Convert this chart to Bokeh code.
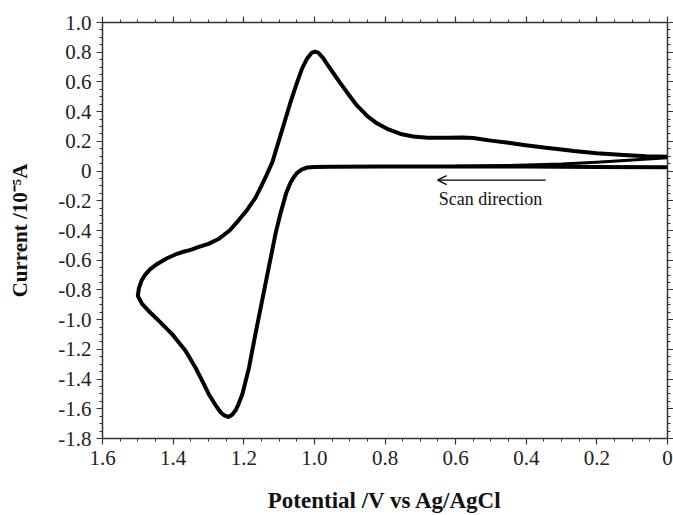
import numpy as np
from bokeh.plotting import figure
from bokeh.models import (Range1d, LinearAxis, FixedTicker, Arrow, OpenHead, Label)
from bokeh.embed import file_html
from bokeh.resources import INLINE

# ---- data ----
# main cycle: forward scan 0 -> 1.5 V, then reverse 1.5 -> 0 V
loop_potential = [0.0, 0.2, 0.4, 0.6, 0.8, 0.95, 1.0, 1.02, 1.035, 1.048, 1.058, 1.068, 1.08,
                  1.096, 1.11, 1.129, 1.148, 1.167, 1.185, 1.204, 1.215, 1.223, 1.233, 1.244,
                  1.255, 1.265, 1.28, 1.299, 1.32, 1.337, 1.365, 1.385, 1.403, 1.441, 1.47,
                  1.488, 1.5,
                  1.497, 1.49, 1.48, 1.465, 1.445, 1.42, 1.395, 1.374, 1.35, 1.327, 1.30,
                  1.27, 1.24, 1.214, 1.19, 1.167, 1.15, 1.138, 1.119, 1.096, 1.068, 1.05,
                  1.035, 1.02, 1.008, 0.998, 0.988, 0.975, 0.964, 0.945, 0.926, 0.9, 0.879,
                  0.85, 0.822, 0.79, 0.756, 0.72, 0.68, 0.62, 0.58, 0.55, 0.5, 0.45, 0.407,
                  0.35, 0.3, 0.265, 0.2, 0.124, 0.06, 0.0]
loop_current = [0.025, 0.027, 0.03, 0.03, 0.03, 0.029, 0.028, 0.024, 0.012, -0.01, -0.04, -0.08, -0.15,
                -0.286, -0.421, -0.647, -0.872, -1.097, -1.322, -1.502, -1.57, -1.61, -1.64, -1.655,
                -1.645, -1.625, -1.575, -1.502, -1.40, -1.322, -1.209, -1.15, -1.097, -1.007, -0.94,
                -0.894, -0.84,
                -0.79, -0.74, -0.70, -0.66, -0.625, -0.59, -0.563, -0.545, -0.53, -0.51, -0.49,
                -0.455, -0.40, -0.33, -0.26, -0.18, -0.10, -0.04, 0.06, 0.24, 0.46, 0.59,
                0.69, 0.76, 0.795, 0.805, 0.795, 0.76, 0.72, 0.655, 0.59, 0.505, 0.44,
                0.37, 0.32, 0.28, 0.25, 0.233, 0.225, 0.224, 0.226, 0.222, 0.205, 0.19, 0.176,
                0.158, 0.145, 0.135, 0.12, 0.108, 0.10, 0.097]
# start of the next forward scan (decays onto the baseline)
scan2_potential = [0.0, 0.1, 0.2, 0.3, 0.45, 0.6]
scan2_current = [0.09, 0.075, 0.06, 0.048, 0.038, 0.032]

x_ticks = [1.6, 1.4, 1.2, 1.0, 0.8, 0.6, 0.4, 0.2, 0.0]
x_tick_labels = ["1.6", "1.4", "1.2", "1.0", "0.8", "0.6", "0.4", "0.2", "0"]
y_ticks = [1.0, 0.8, 0.6, 0.4, 0.2, 0.0, -0.2, -0.4, -0.6, -0.8, -1.0, -1.2, -1.4, -1.6, -1.8]
y_tick_labels = ["1.0", "0.8", "0.6", "0.4", "0.2", "0", "-0.2", "-0.4", "-0.6", "-0.8",
                 "-1.0", "-1.2", "-1.4", "-1.6", "-1.8"]

FONT = "Liberation Serif"
AX = "#333333"

p = figure(width=673, height=515, output_backend="svg", toolbar_location=None,
           x_range=Range1d(1.6, 0.0), y_range=Range1d(-1.8, 1.0),
           min_border_left=102, min_border_right=6, min_border_top=22, min_border_bottom=77,
           x_axis_label="Potential /V vs Ag/AgCl", y_axis_label="Current /10\u207b\u2075A")
p.grid.visible = False
p.outline_line_color = None
p.background_fill_color = "white"
p.border_fill_color = "white"

x_minor = [round(v, 3) for v in np.arange(0.0, 1.6001, 0.05)]
y_minor = [round(v, 3) for v in np.arange(-1.8, 1.0001, 0.05)]
xt = FixedTicker(ticks=x_ticks, minor_ticks=x_minor)
yt = FixedTicker(ticks=y_ticks, minor_ticks=y_minor)


def style(ax):
    ax.axis_line_color = AX
    ax.axis_line_width = 1.5
    ax.major_tick_line_color = AX
    ax.minor_tick_line_color = AX
    ax.major_tick_line_width = 1.2
    ax.minor_tick_line_width = 1
    ax.major_tick_out = 6
    ax.major_tick_in = 0
    ax.minor_tick_out = 3
    ax.minor_tick_in = 0
    ax.major_label_text_font = FONT
    ax.major_label_text_color = "#222222"
    ax.major_label_text_font_size = "21px"
    ax.axis_label_text_font = FONT
    ax.axis_label_text_font_style = "bold"
    ax.axis_label_text_font_size = "21px"
    ax.axis_label_text_color = "#111111"


xa = p.xaxis[0]
xa.ticker = xt
xa.major_label_overrides = {t: l for t, l in zip(x_ticks, x_tick_labels)}
style(xa)
xa.major_label_standoff = 6
xa.axis_label_text_font_size = "23px"
xa.axis_label_standoff = 20

ya = p.yaxis[0]
ya.ticker = yt
ya.major_label_overrides = {t: l for t, l in zip(y_ticks, y_tick_labels)}
style(ya)
ya.major_label_standoff = 5
ya.axis_label_standoff = 23

top = LinearAxis(ticker=xt)
style(top)
top.major_label_overrides = {t: "" for t in x_ticks}
top.major_label_standoff = 0
p.add_layout(top, "above")

right = LinearAxis(ticker=yt)
style(right)
right.major_label_overrides = {t: "" for t in y_ticks}
right.major_label_standoff = 0
p.add_layout(right, "right")

p.line(loop_potential, loop_current, line_color="black", line_width=4, line_join="round")
p.line(scan2_potential, scan2_current, line_color="black", line_width=3.0, line_join="round")

p.add_layout(Arrow(end=OpenHead(size=9, line_width=1.3, line_color="black"),
                   x_start=0.345, y_start=-0.061, x_end=0.651, y_end=-0.061,
                   line_color="black", line_width=1.3))
p.add_layout(Label(x=0.648, y=-0.19, text="Scan direction", text_font=FONT,
                   text_font_size="18px", text_color="#111111", text_baseline="alphabetic"))

open("out.html", "w").write(file_html(p, INLINE))
